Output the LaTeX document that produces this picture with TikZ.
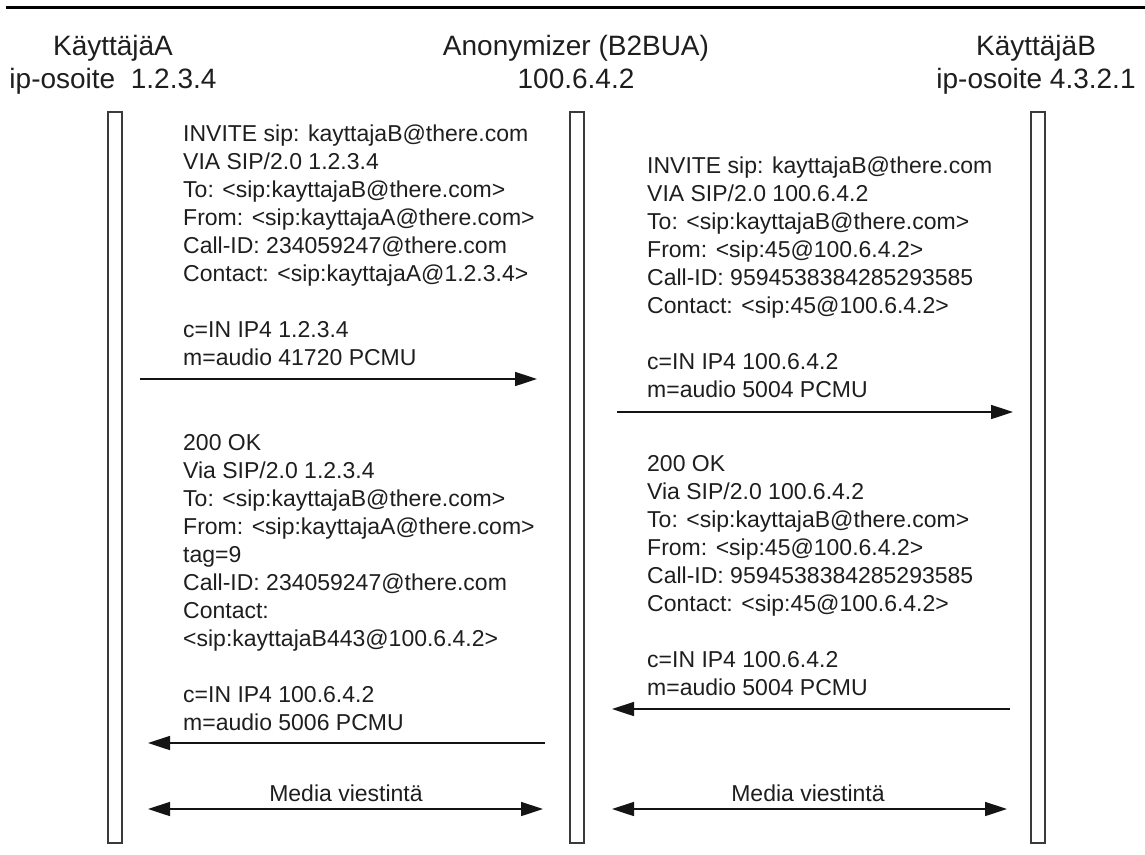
\documentclass[tikz,border=0pt]{standalone}
\usepackage{fontspec}
\setmainfont{Liberation Sans}
\usetikzlibrary{arrows.meta}
\definecolor{txt}{HTML}{1E1E1E}
\definecolor{linec}{HTML}{141414}
\definecolor{lifec}{HTML}{3A3A3A}
\newcommand\leftblock[1]{\vtop{\halign{##\hfil\cr#1\crcr}}}
\newcommand\centerblock[1]{\vtop{\halign{\hfil##\hfil\cr#1\crcr}}}
\begin{document}
\begin{tikzpicture}[x=1pt,y=-1pt,
  hdr/.style={font=\fontsize{28}{33}\selectfont, text=txt, inner sep=0pt, anchor=base},
  msg/.style={font=\fontsize{23}{28}\selectfont, anchor=base west, inner sep=0pt, text=txt},
  lbl/.style={font=\fontsize{23}{28}\selectfont, anchor=base, inner sep=0pt, text=txt},
  life/.style={draw=lifec, line width=1.5pt, fill=white, minimum width=14pt, minimum height=731pt, inner sep=0pt},
  sig/.style={draw=linec, line width=1.6pt, -{Triangle[length=22pt,width=14pt]}},
  both/.style={draw=linec, line width=1.6pt, {Triangle[length=22pt,width=14pt]}-{Triangle[length=22pt,width=14pt]}},
]
\useasboundingbox (0,0) rectangle (1145,854);
\draw[line width=3.5pt, draw=black] (6,7.5) -- (1145,7.5);

% headers
\node[hdr] (hA) at (113,55) {\centerblock{KäyttäjäA\cr ip-osoite\ \ 1.2.3.4}};
\node[hdr] (hM) at (576,55) {\centerblock{Anonymizer (B2BUA)\cr 100.6.4.2}};
\node[hdr] (hB) at (1036,55) {\centerblock{KäyttäjäB\cr ip-osoite 4.3.2.1}};

% lifelines
\node[life] (LA) at (115,477.5) {};
\node[life] (LM) at (577,477.5) {};
\node[life] (LB) at (1038,477.5) {};

% messages
\node[msg] (m1) at (183,141) {\leftblock{INVITE sip: kayttajaB@there.com\cr VIA SIP/2.0 1.2.3.4\cr To: <sip:kayttajaB@there.com>\cr From: <sip:kayttajaA@there.com>\cr Call-ID: 234059247@there.com\cr Contact: <sip:kayttajaA@1.2.3.4>\cr\cr c=IN IP4 1.2.3.4\cr m=audio 41720 PCMU}};
\node[msg] (m2) at (647,173) {\leftblock{INVITE sip: kayttajaB@there.com\cr VIA SIP/2.0 100.6.4.2\cr To: <sip:kayttajaB@there.com>\cr From: <sip:45@100.6.4.2>\cr Call-ID: 9594538384285293585\cr Contact: <sip:45@100.6.4.2>\cr\cr c=IN IP4 100.6.4.2\cr m=audio 5004 PCMU}};
\node[msg] (m3) at (647,471) {\leftblock{200 OK\cr Via SIP/2.0 100.6.4.2\cr To: <sip:kayttajaB@there.com>\cr From: <sip:45@100.6.4.2>\cr Call-ID: 9594538384285293585\cr Contact: <sip:45@100.6.4.2>\cr\cr c=IN IP4 100.6.4.2\cr m=audio 5004 PCMU}};
\node[msg] (m4) at (183,450) {\leftblock{200 OK\cr Via SIP/2.0 1.2.3.4\cr To: <sip:kayttajaB@there.com>\cr From: <sip:kayttajaA@there.com>\cr tag=9\cr Call-ID: 234059247@there.com\cr Contact:\cr <sip:kayttajaB443@100.6.4.2>\cr\cr c=IN IP4 100.6.4.2\cr m=audio 5006 PCMU}};

% arrow end points
\coordinate (a1s) at (140,379);  \coordinate (a1e) at (537,379);
\coordinate (a2s) at (617,412);  \coordinate (a2e) at (1013,412);
\coordinate (a3s) at (1010,709); \coordinate (a3e) at (612,709);
\coordinate (a4s) at (545,743);  \coordinate (a4e) at (148,743);
\coordinate (b1s) at (148,809);  \coordinate (b1e) at (543,809);
\coordinate (b2s) at (612,809);  \coordinate (b2e) at (1007,809);

\draw[sig] (a1s) -- (a1e);
\draw[sig] (a2s) -- (a2e);
\draw[sig] (a3s) -- (a3e);
\draw[sig] (a4s) -- (a4e);
\draw[both] (b1s) -- (b1e);
\draw[both] (b2s) -- (b2e);

\node[lbl] (t1) at (346,801) {Media viestintä};
\node[lbl] (t2) at (808,801) {Media viestintä};
\end{tikzpicture}
\end{document}
